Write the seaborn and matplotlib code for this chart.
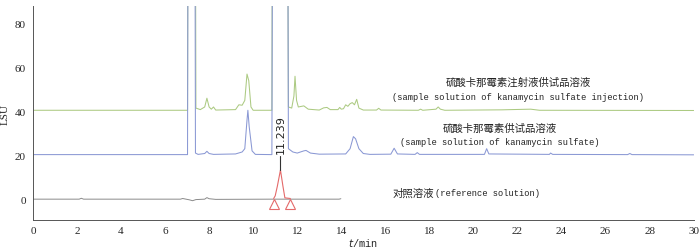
import matplotlib
matplotlib.use('Agg')
import matplotlib.pyplot as plt
import seaborn as sns
import pandas as pd
import numpy as np

# 硫酸卡那霉素注射液供试品溶液 (green trace)
inj_t = [0, 7.02, 7.09, 7.32, 7.40, 7.6, 7.8, 7.9, 8.0, 8.1, 8.2, 8.3, 9.2, 9.35, 9.5, 9.62,
         9.72, 9.8, 9.9, 10.0, 10.85, 10.93, 11.47, 11.6, 11.75, 11.85, 11.9, 11.97, 12.05,
         12.3, 12.5, 13.0, 13.2, 13.35, 13.5, 13.85, 13.93, 14.0, 14.1, 14.2, 14.3, 14.4,
         14.5, 14.6, 14.7, 14.8, 15.0, 15.6, 15.7, 15.8, 17.5, 17.6, 17.7, 18.3, 18.4, 18.5,
         18.7, 21.3, 21.7, 22.6, 23.0, 30.0]
inj_y = [40.5, 40.5, 400, 400, 41.5, 40.8, 42, 46, 42, 41, 42, 40.6, 40.8, 43, 42.8, 45,
         57, 54, 42, 40.5, 40.5, 400, 400, 42, 41.5, 47, 56, 45, 42,
         42.5, 41, 40.6, 41.6, 41.8, 40.8, 40.8, 41.8, 41, 41.2, 43, 42.3, 43.5,
         44, 43, 45.5, 41.5, 40.6, 40.6, 41.4, 40.6, 40.5, 41, 40.5, 41, 42, 41,
         40.5, 40.7, 40.8, 41, 40.5, 40.4]

# 硫酸卡那霉素供试品溶液 (blue trace)
smp_t = [0, 7.02, 7.1, 7.3, 7.38, 7.5, 7.8, 7.9, 8.0, 8.2, 9.2, 9.5, 9.62, 9.72, 9.76, 9.82,
         9.95, 10.1, 10.85, 10.95, 11.5, 11.6, 11.8, 12.0, 12.3, 12.4, 12.6, 13.0, 14.2,
         14.4, 14.55, 14.65, 14.8, 15.0, 15.3, 16.25, 16.4, 16.55, 17.35, 17.45, 17.55,
         20.5, 20.6, 20.7, 23.45, 23.5, 23.6, 27.0, 27.1, 27.2, 30.0]
smp_y = [20.3, 20.3, 400, 400, 21, 20.4, 20.8, 21.8, 20.8, 20.4, 20.6, 21.5, 23, 36, 40.5, 33,
         22, 20.4, 20.3, 400, 400, 23, 21.5, 21, 22, 22.2, 21, 20.5, 20.6,
         23, 28.5, 27.5, 23, 20.8, 20.4, 20.5, 23.2, 20.6, 20.4, 21.2, 20.4,
         20.4, 23, 20.6, 20.4, 21, 20.4, 20.3, 20.8, 20.3, 20.2]

# 对照溶液 (grey trace) and the integrated peak (red)
ref_t = [0, 2.1, 2.2, 2.3, 6.7, 6.8, 7.1, 7.25, 7.4, 7.8, 7.9, 8.0, 8.3, 10.9, 11.7, 13.9, 13.98]
ref_y = [0, 0, 0.4, 0, 0, 0.3, -0.3, -0.7, -0.2, 0, 0.7, 0.2, -0.1, 0, 0, 0, 0.2]
peak_t = [10.93, 11.0, 11.1, 11.239, 11.35, 11.44, 11.69]
peak_y = [0.3, 1.5, 6, 13.3, 6, 0.6, 0.3]
marker_t = [10.96, 11.69]
marker_y = [-2.3, -2.3]
rt_label = '11.239'

sns.set_style('white')
plt.rcParams['font.family'] = ['Liberation Serif', 'Noto Sans CJK SC']

fig = plt.figure(figsize=(7, 2.51), dpi=100)
ax = fig.add_axes([0.047, 0.1195, 0.944, 0.8525])

sns.lineplot(x=inj_t, y=inj_y, ax=ax, color='#acca82', lw=0.75, estimator=None, sort=False)
sns.lineplot(x=smp_t, y=smp_y, ax=ax, color='#8a98d4', lw=0.75, estimator=None, sort=False)
sns.lineplot(x=ref_t, y=ref_y, ax=ax, color='#8a8a8a', lw=0.7, estimator=None, sort=False)
sns.lineplot(x=peak_t, y=peak_y, ax=ax, color='#e46a6a', lw=0.8, estimator=None, sort=False)
ax.plot(marker_t, marker_y, ls='none', marker='^', ms=7, mfc='none', mec='#e46a6a', mew=0.8)

ax.plot([peak_t[3], peak_t[3]], [peak_y[3], 19.5], color='#333333', lw=0.8)
ax.text(peak_t[3], 21, rt_label, rotation=90, ha='center', va='bottom',
        fontsize=8, family='DejaVu Sans', color='#222222')

lab = dict(ha='center', va='center', color='#222222')
ax.text(22.05, 53.6, '硫酸卡那霉素注射液供试品溶液', fontsize=7.5,
        family=['Noto Sans CJK SC'], **lab)
ax.text(22.03, 46.8, '(sample solution of kanamycin sulfate injection)', fontsize=6.3,
        family=['Liberation Mono'], **lab)
ax.text(21.2, 32.7, '硫酸卡那霉素供试品溶液', fontsize=7.5,
        family=['Noto Sans CJK SC'], **lab)
ax.text(21.2, 26.4, '(sample solution of kanamycin sulfate)', fontsize=6.3,
        family=['Liberation Mono'], **lab)
ax.text(16.34, 3.2, '对照溶液', fontsize=7.5, family=['Noto Sans CJK SC'],
        ha='left', va='center', color='#222222')
ax.text(18.25, 3.2, '(reference solution)', fontsize=6.3, family=['Liberation Mono'],
        ha='left', va='center', color='#222222')

ax.set_xlim(0, 30)
ax.set_ylim(-9.5, 88)
ax.set_xticks(np.arange(0, 31, 2))
ax.set_yticks([0, 20, 40, 60, 80])
ax.tick_params(axis='both', labelsize=8, width=0.6, color='#555555')
ax.tick_params(axis='x', direction='in', length=4, pad=4)
ax.tick_params(axis='y', direction='out', length=3, pad=2)
for s in ['top', 'right']:
    ax.spines[s].set_visible(False)
for s in ['left', 'bottom']:
    ax.spines[s].set_color('#555555')
    ax.spines[s].set_linewidth(0.7)

ax.set_xlabel(r'$\mathit{t}$/min', fontsize=7.5, family='Liberation Mono', va='center')
ax.xaxis.set_label_coords(0.5, -0.103)
ax.set_ylabel('LSU', fontsize=8, labelpad=4)

fig.savefig('out.png', dpi=100)
